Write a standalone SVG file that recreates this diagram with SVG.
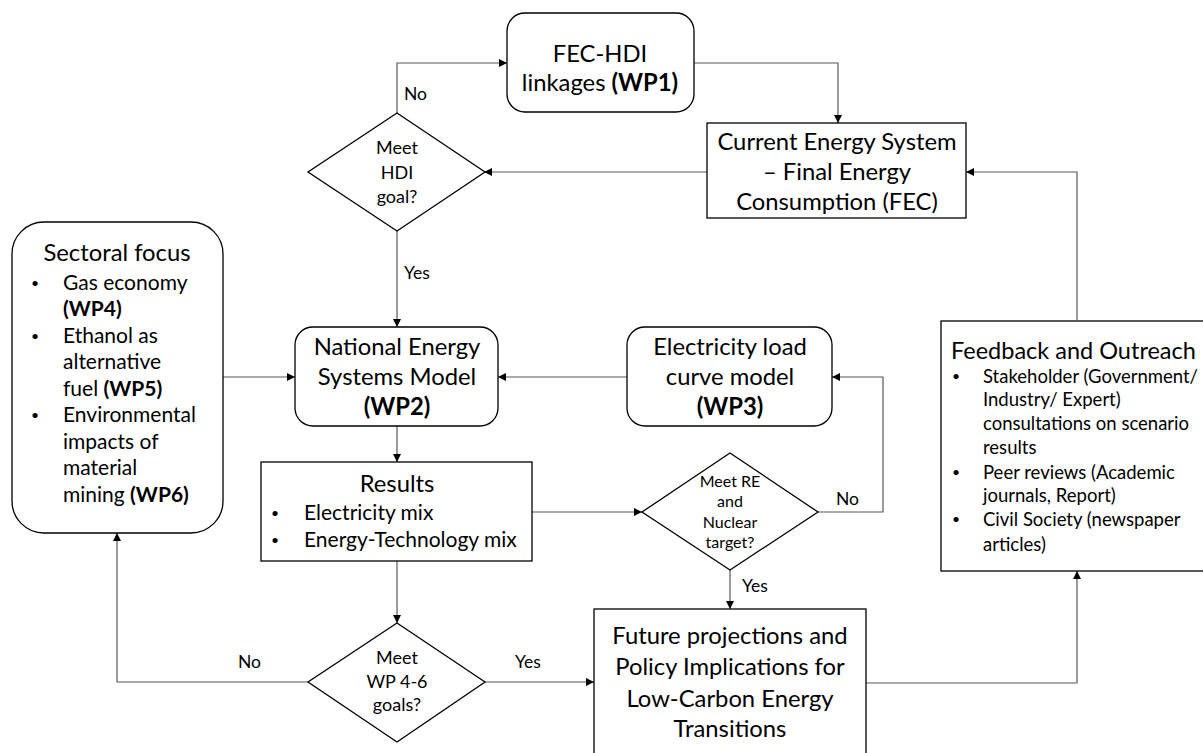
<svg xmlns="http://www.w3.org/2000/svg" width="1203" height="753" viewBox="0 0 1203 753">
<defs>
<marker id="arr" viewBox="0 0 10 10" refX="10" refY="5" markerWidth="8" markerHeight="8" markerUnits="userSpaceOnUse" orient="auto">
<path d="M0,0 L10,5 L0,10 z" fill="#000"/>
</marker>
</defs>
<style>
text{font-family:Lato,"Open Sans",sans-serif;fill:#000}
.box{fill:#fff;stroke:#000;stroke-width:1.3}
.c{fill:none;stroke:#595959;stroke-width:1.2;marker-end:url(#arr)}
.m{text-anchor:middle}
.b{font-weight:bold}
.t24{font-size:23.8px}
.t21{font-size:21px}
.t18{font-size:18.5px}
.d18{font-size:18px}
.d16{font-size:16px}
.lb{font-size:17.5px}
.bl{font-size:14px}
</style>
<rect width="1203" height="753" fill="#fff"/>

<g id="connectors">
<path class="c" d="M397,113 V63 H507"/>
<path class="c" d="M694,63 H838 V123"/>
<path class="c" d="M707,172 H484"/>
<path class="c" d="M1077,320 V172 H966"/>
<path class="c" d="M397,231 V327"/>
<path class="c" d="M223,377 H295"/>
<path class="c" d="M627,377 H498"/>
<path class="c" d="M397,426 V462"/>
<path class="c" d="M532,512 H642"/>
<path class="c" d="M818,512 H883 V377 H832"/>
<path class="c" d="M730,570 V609"/>
<path class="c" d="M397,561 V623"/>
<path class="c" d="M308,682 H117 V533"/>
<path class="c" d="M485,682 H594"/>
<path class="c" d="M866,683 H1077 V571"/>
</g>

<g id="fec-hdi">
<rect class="box" x="507" y="13" width="187" height="99" rx="18"/>
<text class="m t24" x="600" y="62">FEC-HDI</text>
<text class="m t24" x="600" y="91">linkages <tspan class="b">(WP1)</tspan></text>
</g>

<g id="current">
<rect class="box" x="707" y="123" width="259" height="95"/>
<text class="m t24" x="837" y="150">Current Energy System</text>
<text class="m t24" x="837" y="180">– Final Energy</text>
<text class="m t24" x="837" y="210">Consumption (FEC)</text>
</g>

<g id="hdi-diamond">
<polygon class="box" points="397,113 485,172 397,231 308,172"/>
<text class="m d18" x="397" y="154">Meet</text>
<text class="m d18" x="397" y="179">HDI</text>
<text class="m d18" x="397" y="203">goal?</text>
</g>
<text class="lb" x="404" y="100">No</text>
<text class="lb" x="404" y="279">Yes</text>

<g id="sectoral">
<rect class="box" x="12" y="222" width="211" height="311" rx="32"/>
<text class="m t24" x="117" y="261">Sectoral focus</text>
<g class="t21">
<text class="bl" x="31" y="288">•</text><text x="63" y="290">Gas economy</text>
<text x="63" y="316" class="b">(WP4)</text>
<text class="bl" x="31" y="341">•</text><text x="63" y="343">Ethanol as</text>
<text x="63" y="369">alternative</text>
<text x="63" y="396">fuel <tspan class="b">(WP5)</tspan></text>
<text class="bl" x="31" y="420">•</text><text x="63" y="422">Environmental</text>
<text x="63" y="449">impacts of</text>
<text x="63" y="475">material</text>
<text x="63" y="502">mining <tspan class="b">(WP6)</tspan></text>
</g>
</g>

<g id="nesm">
<rect class="box" x="295" y="327" width="203" height="99" rx="18"/>
<text class="m t24" x="397" y="355">National Energy</text>
<text class="m t24" x="397" y="385">Systems Model</text>
<text class="m t24 b" x="397" y="415">(WP2)</text>
</g>

<g id="load">
<rect class="box" x="627" y="327" width="205" height="99" rx="18"/>
<text class="m t24" x="730" y="355">Electricity load</text>
<text class="m t24" x="730" y="385">curve model</text>
<text class="m t24 b" x="730" y="415">(WP3)</text>
</g>

<g id="results">
<rect class="box" x="261" y="462" width="271" height="99"/>
<text class="m t24" x="397" y="492">Results</text>
<text class="bl" x="271" y="518">•</text><text class="t21" x="304" y="520">Electricity mix</text>
<text class="bl" x="271" y="545">•</text><text class="t21" x="304" y="547">Energy-Technology mix</text>
</g>

<g id="re-diamond">
<polygon class="box" points="730,453 818,512 730,570 642,512"/>
<text class="m d16" x="730" y="487">Meet RE</text>
<text class="m d16" x="730" y="507">and</text>
<text class="m d16" x="730" y="528">Nuclear</text>
<text class="m d16" x="730" y="548">target?</text>
</g>
<text class="lb" x="836" y="505">No</text>
<text class="lb" x="742" y="592">Yes</text>

<g id="wp-diamond">
<polygon class="box" points="397,623 485,682 397,742 308,682"/>
<text class="m d18" x="397" y="664">Meet</text>
<text class="m d18" x="397" y="688">WP 4-6</text>
<text class="m d18" x="397" y="711">goals?</text>
</g>
<text class="lb" x="238" y="668">No</text>
<text class="lb" x="515" y="668">Yes</text>

<g id="future">
<rect class="box" x="594" y="609" width="272" height="160"/>
<text class="m t24" x="730" y="644">Future projections and</text>
<text class="m t24" x="730" y="675">Policy Implications for</text>
<text class="m t24" x="730" y="707">Low-Carbon Energy</text>
<text class="m t24" x="730" y="737">Transitions</text>
</g>

<g id="feedback">
<rect class="box" x="941" y="321" width="270" height="250"/>
<text class="t24" x="951" y="359" style="font-size:23.5px">Feedback and Outreach</text>
<g class="t18">
<text class="bl" x="952" y="381">•</text><text x="983" y="383">Stakeholder (Government/</text>
<text x="983" y="406">Industry/ Expert)</text>
<text x="983" y="430">consultations on scenario</text>
<text x="983" y="454">results</text>
<text class="bl" x="952" y="477">•</text><text x="983" y="479">Peer reviews (Academic</text>
<text x="983" y="502">journals, Report)</text>
<text class="bl" x="952" y="524">•</text><text x="983" y="526">Civil Society (newspaper</text>
<text x="983" y="551">articles)</text>
</g>
</g>
</svg>
